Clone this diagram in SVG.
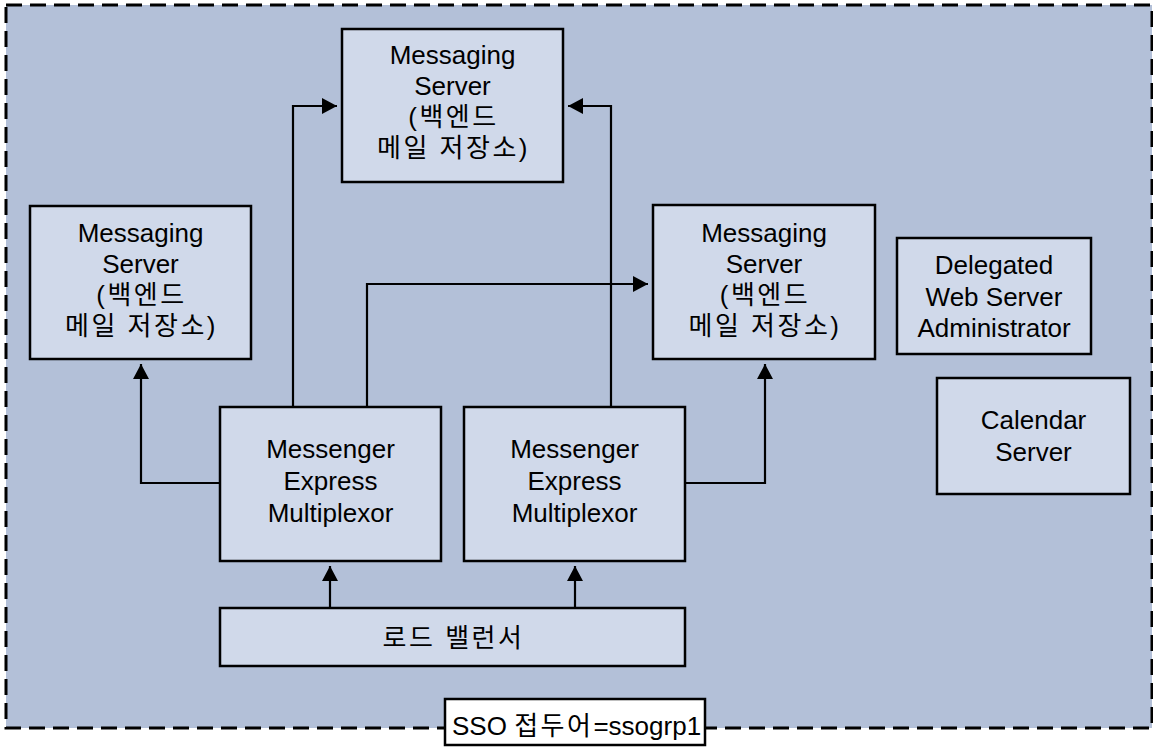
<svg xmlns="http://www.w3.org/2000/svg" width="1153" height="754" viewBox="0 0 1153 754">
<defs>
<style>
.box{fill:#d0d9ea;stroke:#000;stroke-width:2.5}
.t{font-family:"Liberation Sans","Noto Sans CJK KR",Arial,sans-serif;font-size:26px;fill:#000;text-anchor:middle}
.k{letter-spacing:2.5px}
.c{fill:none;stroke:#000;stroke-width:2.2}
</style>
<marker id="ah" markerUnits="userSpaceOnUse" markerWidth="15" markerHeight="16" refX="15" refY="8" orient="auto" viewBox="0 0 15 16">
<path d="M0,0 L15,8 L0,16 z" fill="#000"/>
</marker>
</defs>
<rect x="0" y="0" width="1153" height="754" fill="#fff"/>
<rect id="group-area" x="6" y="5" width="1146" height="723" fill="#b3c0d8" stroke="#000" stroke-width="3" stroke-dasharray="16 8"/>

<g id="connectors">
<polyline class="c" points="220,483 141,483 141,364" marker-end="url(#ah)"/>
<polyline class="c" points="293,407 293,106 337,106" marker-end="url(#ah)"/>
<polyline class="c" points="367,407 367,284 648,284" marker-end="url(#ah)"/>
<polyline class="c" points="611,407 611,106 568,106" marker-end="url(#ah)"/>
<polyline class="c" points="685,483 765,483 765,364" marker-end="url(#ah)"/>
<polyline class="c" points="330,608 330,566" marker-end="url(#ah)"/>
<polyline class="c" points="575,608 575,566" marker-end="url(#ah)"/>
</g>

<g id="ms-top">
<rect class="box" x="342" y="29" width="221" height="153"/>
<text class="t" x="452.5" y="64">Messaging</text>
<text class="t" x="452.5" y="95">Server</text>
<text class="t k" x="453.5" y="126">(백엔드</text>
<text class="t k" x="453.5" y="157">메일 저장소)</text>
</g>

<g id="ms-left">
<rect class="box" x="30" y="206" width="221" height="153"/>
<text class="t" x="140.5" y="242">Messaging</text>
<text class="t" x="140.5" y="273">Server</text>
<text class="t k" x="141.5" y="304">(백엔드</text>
<text class="t k" x="141.5" y="335">메일 저장소)</text>
</g>

<g id="ms-right">
<rect class="box" x="653" y="205" width="222" height="154"/>
<text class="t" x="764" y="242">Messaging</text>
<text class="t" x="764" y="273">Server</text>
<text class="t k" x="765" y="304">(백엔드</text>
<text class="t k" x="765" y="335">메일 저장소)</text>
</g>

<g id="delegated">
<rect class="box" x="897" y="238" width="194" height="116"/>
<text class="t" x="994" y="274">Delegated</text>
<text class="t" x="994" y="306">Web Server</text>
<text class="t" x="994" y="337">Administrator</text>
</g>

<g id="calendar">
<rect class="box" x="937" y="378" width="193" height="116"/>
<text class="t" x="1033.5" y="429">Calendar</text>
<text class="t" x="1033.5" y="461">Server</text>
</g>

<g id="mux1">
<rect class="box" x="220" y="407" width="221" height="154"/>
<text class="t" x="330.5" y="458">Messenger</text>
<text class="t" x="330.5" y="490">Express</text>
<text class="t" x="330.5" y="522">Multiplexor</text>
</g>

<g id="mux2">
<rect class="box" x="464" y="407" width="221" height="154"/>
<text class="t" x="574.5" y="458">Messenger</text>
<text class="t" x="574.5" y="490">Express</text>
<text class="t" x="574.5" y="522">Multiplexor</text>
</g>

<g id="load-balancer">
<rect class="box" x="220" y="608" width="465" height="58"/>
<text class="t k" x="453.5" y="647">로드 밸런서</text>
</g>

<g id="sso-label">
<rect x="445" y="699" width="260" height="46" fill="#fff" stroke="#000" stroke-width="2.5"/>
<text class="t" x="452" y="735" style="text-anchor:start">SSO <tspan class="k">접두어</tspan>=ssogrp1</text>
</g>
</svg>
